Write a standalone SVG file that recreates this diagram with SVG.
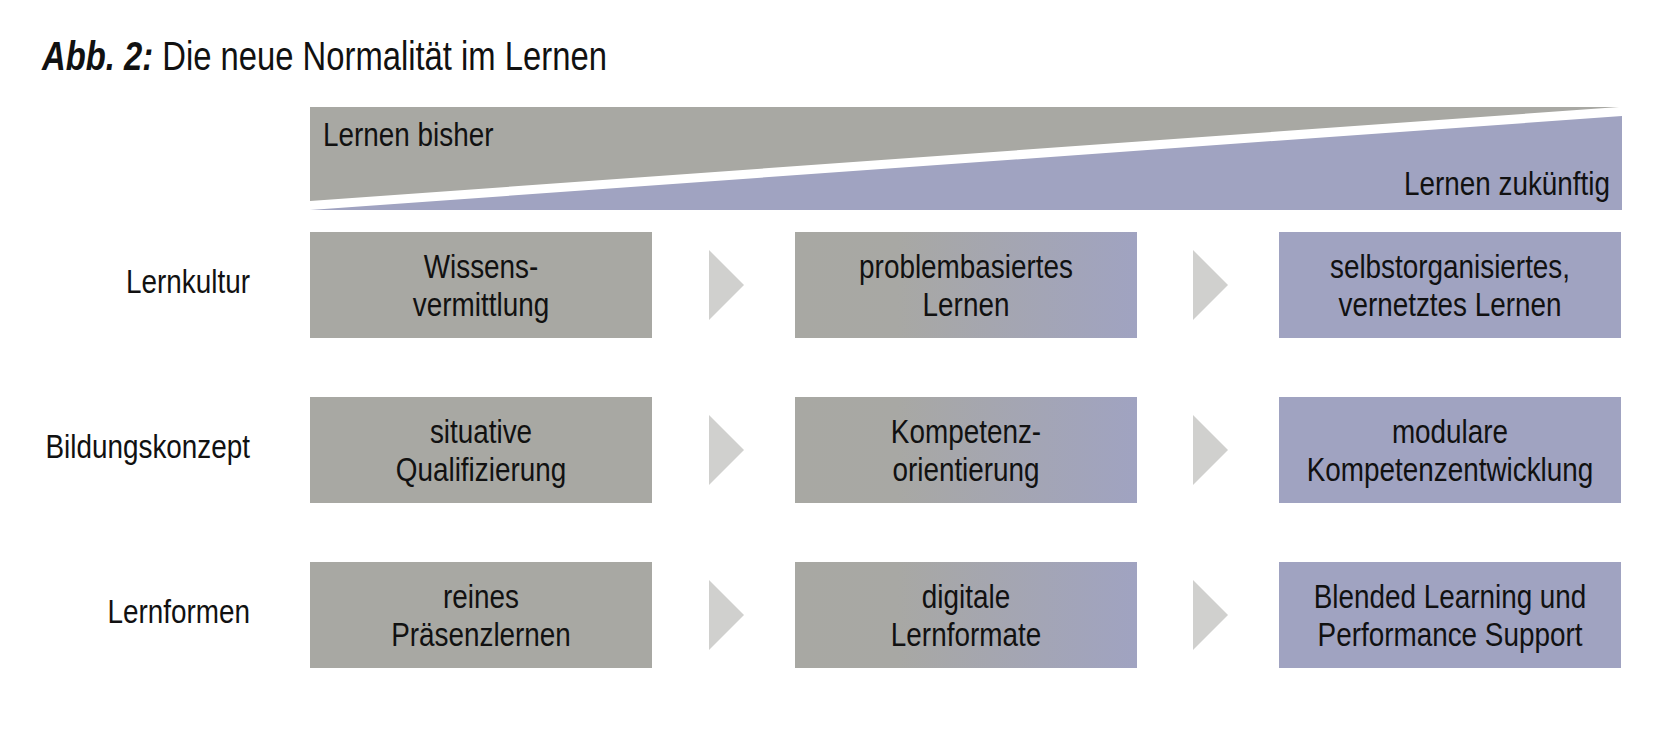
<svg xmlns="http://www.w3.org/2000/svg" width="1659" height="734" viewBox="0 0 1659 734">
<defs>
<linearGradient id="mid" x1="0" y1="0" x2="1" y2="0">
<stop offset="0" stop-color="#a8a8a3"/>
<stop offset="0.3" stop-color="#a8a8a4"/>
<stop offset="1" stop-color="#a0a3c1"/>
</linearGradient>
<style>
text{font-family:"Liberation Sans",Arial,sans-serif;font-size:34px;fill:#111;}
.c{text-anchor:middle;}
.r{text-anchor:end;}
.gray{fill:#a8a8a3;}
.blue{fill:#a0a3c1;}
.mid{fill:url(#mid);}
.arr{fill:#d0d0ce;}
.title{font-size:40px;}
.ti{font-weight:bold;font-style:italic;}
</style>
</defs>
<rect width="1659" height="734" fill="#ffffff"/>
<g id="title"><text transform="translate(42,70) scale(0.82,1)" class="title"><tspan class="ti">Abb. 2:</tspan> Die neue Normalität im Lernen</text></g>
<g id="banner">
<polygon class="gray" points="310,107 1619,107 310,201"/>
<polygon class="blue" points="310,210 1622,116 1622,210"/>
<text transform="translate(323,146) scale(0.82,1)">Lernen bisher</text>
<text transform="translate(1610,195) scale(0.82,1)" class="r">Lernen zukünftig</text>
</g>
<g id="row-labels">
<text transform="translate(250,293) scale(0.82,1)" class="r">Lernkultur</text>
<text transform="translate(250,458) scale(0.82,1)" class="r">Bildungskonzept</text>
<text transform="translate(250,623) scale(0.82,1)" class="r">Lernformen</text>
</g>
<g id="n11"><rect class="gray" x="310" y="232" width="342" height="106"/><text class="c" transform="translate(481,278) scale(0.82,1)">Wissens-</text><text class="c" transform="translate(481,316) scale(0.82,1)">vermittlung</text></g>
<g id="n12"><rect class="mid" x="795" y="232" width="342" height="106"/><text class="c" transform="translate(966,278) scale(0.82,1)">problembasiertes</text><text class="c" transform="translate(966,316) scale(0.82,1)">Lernen</text></g>
<g id="n13"><rect class="blue" x="1279" y="232" width="342" height="106"/><text class="c" transform="translate(1450,278) scale(0.82,1)">selbstorganisiertes,</text><text class="c" transform="translate(1450,316) scale(0.82,1)">vernetztes Lernen</text></g>
<g id="n21"><rect class="gray" x="310" y="397" width="342" height="106"/><text class="c" transform="translate(481,443) scale(0.82,1)">situative</text><text class="c" transform="translate(481,481) scale(0.82,1)">Qualifizierung</text></g>
<g id="n22"><rect class="mid" x="795" y="397" width="342" height="106"/><text class="c" transform="translate(966,443) scale(0.82,1)">Kompetenz-</text><text class="c" transform="translate(966,481) scale(0.82,1)">orientierung</text></g>
<g id="n23"><rect class="blue" x="1279" y="397" width="342" height="106"/><text class="c" transform="translate(1450,443) scale(0.82,1)">modulare</text><text class="c" transform="translate(1450,481) scale(0.82,1)">Kompetenzentwicklung</text></g>
<g id="n31"><rect class="gray" x="310" y="562" width="342" height="106"/><text class="c" transform="translate(481,608) scale(0.82,1)">reines</text><text class="c" transform="translate(481,646) scale(0.82,1)">Präsenzlernen</text></g>
<g id="n32"><rect class="mid" x="795" y="562" width="342" height="106"/><text class="c" transform="translate(966,608) scale(0.82,1)">digitale</text><text class="c" transform="translate(966,646) scale(0.82,1)">Lernformate</text></g>
<g id="n33"><rect class="blue" x="1279" y="562" width="342" height="106"/><text class="c" transform="translate(1450,608) scale(0.82,1)">Blended Learning und</text><text class="c" transform="translate(1450,646) scale(0.82,1)">Performance Support</text></g>
<g id="connectors">
<polygon class="arr" points="709,250 744,285 709,320"/>
<polygon class="arr" points="1193,250 1228,285 1193,320"/>
<polygon class="arr" points="709,415 744,450 709,485"/>
<polygon class="arr" points="1193,415 1228,450 1193,485"/>
<polygon class="arr" points="709,580 744,615 709,650"/>
<polygon class="arr" points="1193,580 1228,615 1193,650"/>
</g>
</svg>
